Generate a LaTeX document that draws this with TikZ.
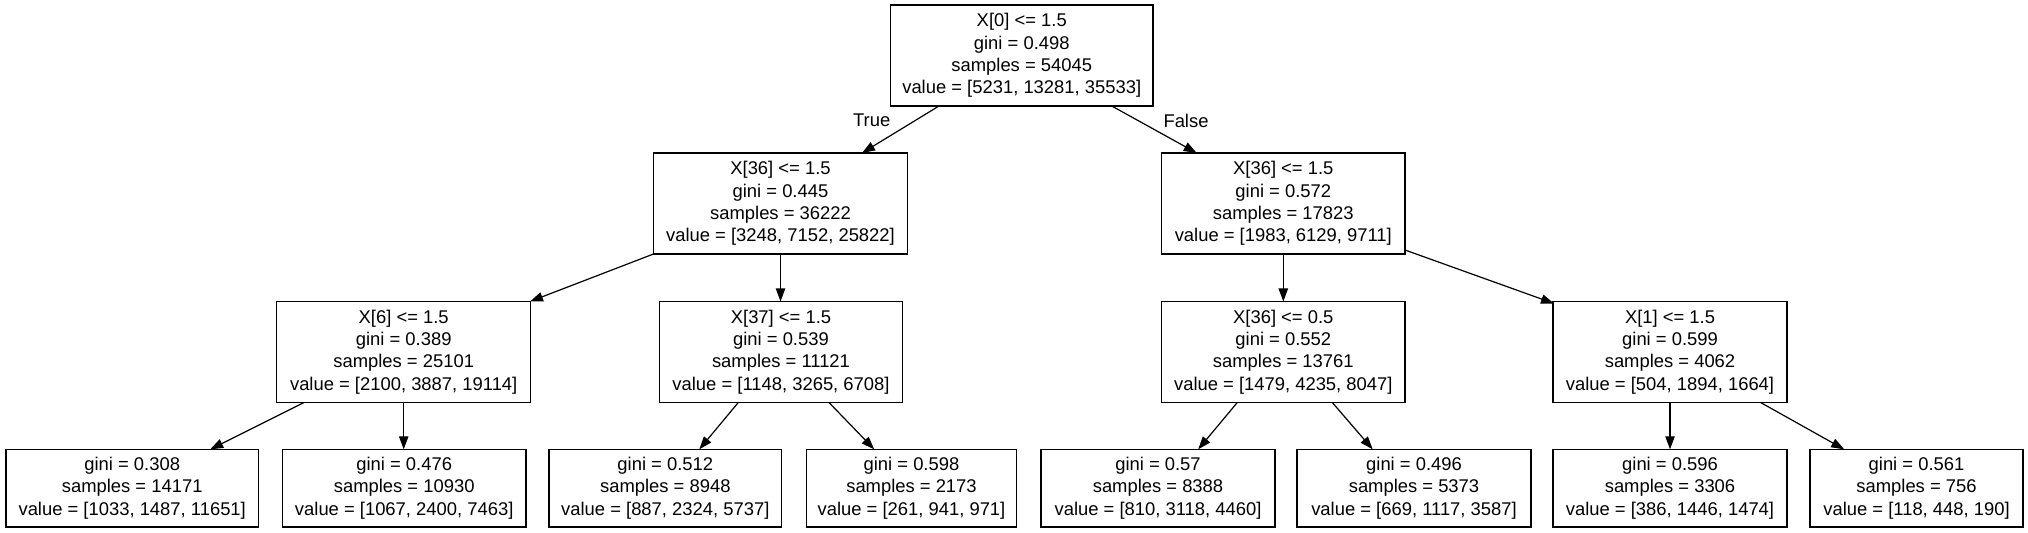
\documentclass[tikz,border=0pt]{standalone}
\usepackage{fontspec}
\setmainfont{Liberation Sans}
\usetikzlibrary{arrows.meta,calc}
\begin{document}
\begin{tikzpicture}[x=1bp,y=-1bp,
  every node/.style={font=\fontsize{18.4bp}{22.2bp}\selectfont},
  tnode/.style={draw=black,line width=1.3bp,rectangle,inner sep=0pt,outer sep=0pt,align=center,minimum height=101bp},
  leaf/.style={tnode,minimum height=77.7bp},
  edge/.style={draw=black,line width=1.2bp,-{Triangle[length=13bp,width=9.3bp]}},
  elabel/.style={inner sep=0pt}
]
\useasboundingbox (0,0) rectangle (2028,533);
% internal nodes
\node[tnode,minimum width=262.5bp] (root) at (1021.75,55.5) {X[0] <= 1.5\\gini = 0.498\\samples = 54045\\value = [5231, 13281, 35533]};
\node[tnode,minimum width=254bp] (n1) at (780.5,203.5) {X[36] <= 1.5\\gini = 0.445\\samples = 36222\\value = [3248, 7152, 25822]};
\node[tnode,minimum width=243.3bp] (n2) at (1283.3,203.5) {X[36] <= 1.5\\gini = 0.572\\samples = 17823\\value = [1983, 6129, 9711]};
\node[tnode,minimum width=254bp] (A) at (403.7,352) {X[6] <= 1.5\\gini = 0.389\\samples = 25101\\value = [2100, 3887, 19114]};
\node[tnode,minimum width=243.4bp] (B) at (781,352) {X[37] <= 1.5\\gini = 0.539\\samples = 11121\\value = [1148, 3265, 6708]};
\node[tnode,minimum width=243.3bp] (C) at (1283.3,352) {X[36] <= 0.5\\gini = 0.552\\samples = 13761\\value = [1479, 4235, 8047]};
\node[tnode,minimum width=234bp] (D) at (1670,352) {X[1] <= 1.5\\gini = 0.599\\samples = 4062\\value = [504, 1894, 1664]};
% leaves
\node[leaf,minimum width=252.3bp] (L1) at (132.2,488.2) {gini = 0.308\\samples = 14171\\value = [1033, 1487, 11651]};
\node[leaf,minimum width=243.7bp] (L2) at (404.2,488.2) {gini = 0.476\\samples = 10930\\value = [1067, 2400, 7463]};
\node[leaf,minimum width=232.7bp] (L3) at (665.3,488.2) {gini = 0.512\\samples = 8948\\value = [887, 2324, 5737]};
\node[leaf,minimum width=210bp] (L4) at (911.5,488.2) {gini = 0.598\\samples = 2173\\value = [261, 941, 971]};
\node[leaf,minimum width=234bp] (L5) at (1158,488.2) {gini = 0.57\\samples = 8388\\value = [810, 3118, 4460]};
\node[leaf,minimum width=234bp] (L6) at (1414,488.2) {gini = 0.496\\samples = 5373\\value = [669, 1117, 3587]};
\node[leaf,minimum width=234bp] (L7) at (1670,488.2) {gini = 0.596\\samples = 3306\\value = [386, 1446, 1474]};
\node[leaf,minimum width=213bp] (L8) at (1916.5,488.2) {gini = 0.561\\samples = 756\\value = [118, 448, 190]};
% edges
\draw[edge] ($(root.south)+(-82.75,0)$) -- ($(n1.north)+(81.5,0)$);
\draw[edge] ($(root.south)+(90,0)$) -- ($(n2.north)+(-86.6,0)$);
\node[elabel] (tl) at (871.7,120.7) {True};
\node[elabel] (fl) at (1186,120.7) {False};
\draw[edge] (n1.south west) -- ($(A.north)+(126.3,0)$);
\draw[edge] (n1.south) -- (n1.south |- B.north);
\draw[edge] ($(A.south)+(-99.7,0)$) -- ($(L1.north)+(78,0)$);
\draw[edge] (A.south) -- (A.south |- L2.north);
\draw[edge] ($(B.south)+(-42.7,0)$) -- ($(L3.north)+(34,0)$);
\draw[edge] ($(B.south)+(48,0)$) -- ($(L4.north)+(-37.3,0)$);
\draw[edge] (n2.south) -- (C.north);
\draw[edge] ($(n2.south east)+(0,-4)$) -- ($(D.north west)+(1,2)$);
\draw[edge] ($(C.south)+(-46,0)$) -- ($(L5.north)+(40.2,0)$);
\draw[edge] ($(C.south)+(49,0)$) -- ($(L6.north)+(-41.3,0)$);
\draw[edge] (D.south) -- (L7.north);
\draw[edge] ($(D.south)+(90.6,0)$) -- ($(L8.north)+(-72.3,0)$);
\end{tikzpicture}
\end{document}
